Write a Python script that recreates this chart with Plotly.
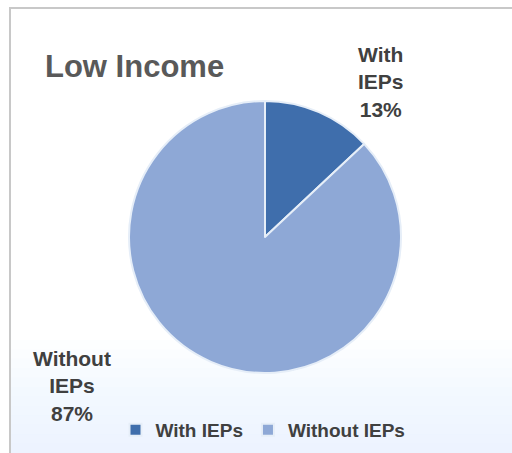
import plotly.graph_objects as go

labels = ["With IEPs", "Without IEPs"]
values = [13, 87]
colors = ["#3F6EAC", "#8EA8D6"]
title_text = "Low Income"

W, H = 512, 453

fig = go.Figure()
fig.add_trace(go.Pie(
    labels=labels,
    values=values,
    sort=False,
    direction="clockwise",
    rotation=0,
    textinfo="none",
    hoverinfo="label+percent",
    marker=dict(colors=colors, line=dict(color="#E6EEF8", width=2)),
    domain=dict(x=[(265 - 136) / W, (265 + 136) / W],
                y=[(H - 373) / H, (H - 101) / H]),
))

font_lbl = dict(family="Liberation Sans, Arial, sans-serif", size=21, color="#404040")

# data labels (outside)
pcts = [round(v / sum(values) * 100) for v in values]
lbl_pos = [(381, 82), (72, 386)]
for (lx, ly), lab, p in zip(lbl_pos, labels, pcts):
    t = lab.replace(" ", "<br>") + "<br>" + f"{p}%"
    fig.add_annotation(x=lx / W, y=1 - ly / H, xref="paper", yref="paper",
                       text=f"<b>{t}</b>", showarrow=False, font=font_lbl,
                       align="center", xanchor="center", yanchor="middle")

fig.add_annotation(x=43 / W, y=1 - 67 / H, xref="paper", yref="paper",
                   text=f"<b>{title_text}</b>", showarrow=False,
                   font=dict(family="Liberation Sans, Arial, sans-serif", size=31, color="#595959"),
                   xanchor="left", yanchor="middle")

shapes = []
# subtle bottom gradient
n = 12
for i in range(n):
    y0 = 340 + i * (H - 340) / n
    shapes.append(dict(type="rect", xref="paper", yref="paper",
                       x0=10 / W, x1=1, y0=0, y1=1 - y0 / H,
                       fillcolor="rgba(232,239,250,0.08)", line=dict(width=0), layer="below"))
# frame
shapes.append(dict(type="rect", xref="paper", yref="paper",
                   x0=10 / W, x1=1.01, y0=-0.01, y1=1 - 8 / H,
                   line=dict(color="#C8C8C8", width=2), fillcolor="rgba(0,0,0,0)", layer="below"))

fig.update_layout(
    width=W, height=H,
    margin=dict(l=0, r=0, t=0, b=0),
    paper_bgcolor="white",
    plot_bgcolor="white",
    showlegend=True,
    legend=dict(orientation="h", x=263 / W, xanchor="center", y=1 - 430 / H, yanchor="middle",
                font=dict(family="Liberation Sans, Arial, sans-serif", size=19, color="#404040",
                          weight="bold"),
                itemwidth=30, bgcolor="rgba(0,0,0,0)"),
    shapes=shapes,
)
fig.write_html("out.html", config={"displayModeBar": False})

with open("out.html", "r", encoding="utf-8") as f:
    html = f.read()
html = html.replace("<head>", "<head><style>html,body{margin:0;padding:0;overflow:hidden;}</style>", 1)
with open("out.html", "w", encoding="utf-8") as f:
    f.write(html)
